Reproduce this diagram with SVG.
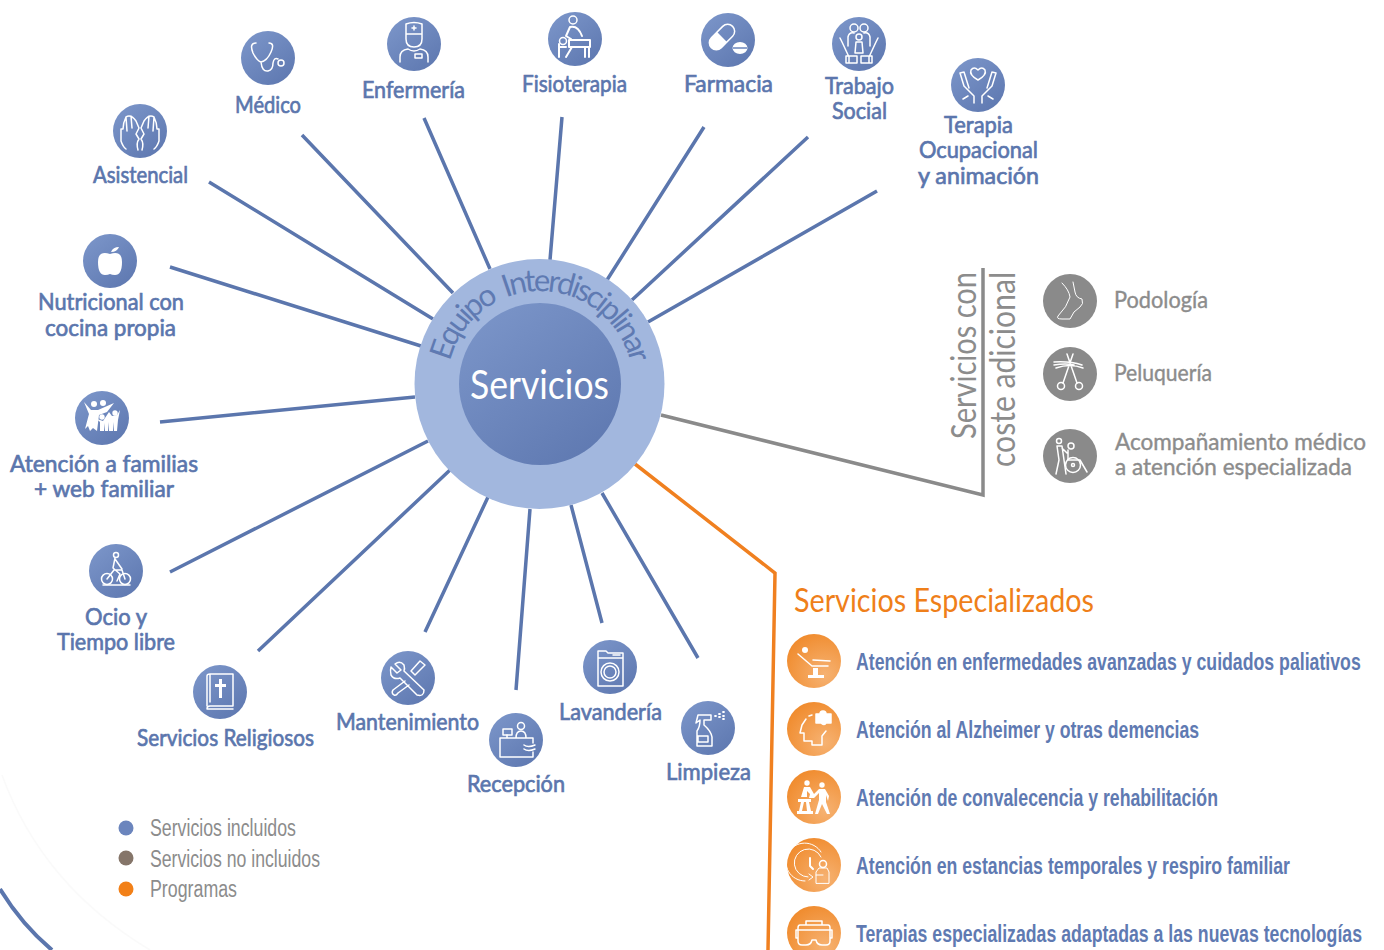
<svg xmlns="http://www.w3.org/2000/svg" xmlns:xlink="http://www.w3.org/1999/xlink" width="1384" height="950" viewBox="0 0 1384 950">
<style>
text{font-family:"Lato","Liberation Sans",sans-serif}
.l{font-size:24px;fill:#5b76ad;stroke:#5b76ad;stroke-width:.7}
.g{font-size:24px;fill:#8c8c8c;stroke:#8c8c8c;stroke-width:.4}
.v{font-size:34px;fill:#8c8c8c}
.o{font-family:"Liberation Sans",Arial,sans-serif;font-weight:700;font-size:23px;fill:#5f7ab2}
.k{font-family:"Liberation Sans",Arial,sans-serif;font-size:23px;fill:#8c8c8c}
.c{stroke:#5b76ad;stroke-width:3.5;fill:none}
.b{fill:url(#blue)}.y{fill:#8a8a8a}.r{fill:url(#org)}
.i{fill:none;stroke:#fff;stroke-width:1.5;stroke-linecap:round;stroke-linejoin:round}
.f{fill:#fff;stroke:none}
</style>
<defs>
<linearGradient id="blue" x1="0.15" y1="0.05" x2="0.85" y2="0.95"><stop offset="0" stop-color="#7a94c8"/><stop offset="1" stop-color="#5f79b1"/></linearGradient>
<radialGradient id="org" cx="0.7" cy="0.75" r="0.85"><stop offset="0" stop-color="#f6b272"/><stop offset="1" stop-color="#f08a2b"/></radialGradient>
<path id="arc" d="M449.800 361.500 A93 93 0 0 1 630.200 361.500"/>
<path id="hand" d="M-2 19Q-4 12-1 8L-4 3-1-3-4-10Q-9-17-14-14Q-17-8-17-2L-19-2V10Q-17 16-14 18M-14-14L-13 0M-9-15L-8-3"/>
</defs>
<rect width="1384" height="950" fill="#fff"/>
<g id="decor" fill="none">
<path d="M2 775Q42 885 150 950" stroke="#fafafa" stroke-width="1.500"/>
<path d="M0 889Q22 925 52 950" stroke="#5b76ad" stroke-width="4"/>
</g>
<g id="connectors">
<path class="c" d="M209 182L433 319M302 135L453 293M424 118L490 269M562 117L550 260M704 127L607 280M808 137L632 300M877 191L648 322M170 267L421 346M160 422L415 397M170 572L428 441M258 651L450 470M425 632L488 497M516 690L530 509M602 623L571 505M698 658L602 493"/>
<path d="M661 415L983 495V268" fill="none" stroke="#8a8a8a" stroke-width="3.500"/>
<path d="M635 464L775 573L768 950" fill="none" stroke="#f08020" stroke-width="3.500"/>
</g>
<g id="center">
<circle cx="539.500" cy="384" r="125" fill="#a2b7de"/>
<circle cx="540" cy="384" r="81" fill="url(#blue)"/>
<text font-size="31" fill="#5f7ab2" word-spacing="5"><textPath xlink:href="#arc" href="#arc" startOffset="0" textLength="248" lengthAdjust="spacing">Equipo Interdisciplinar</textPath></text>
<text x="470" y="399" font-size="40" fill="#fff" textLength="139" lengthAdjust="spacingAndGlyphs">Servicios</text>
</g>
<g id="asistencial"><circle class="b" cx="140" cy="131" r="27"/><g class="i" transform="translate(140 131)"><use href="#hand"/><use href="#hand" transform="scale(-1 1)"/></g><text class="l" x="93" y="183" textLength="95" lengthAdjust="spacingAndGlyphs">Asistencial</text></g>
<g id="medico"><circle class="b" cx="268" cy="58" r="27"/><g class="i" transform="translate(268 58)"><path d="M-12-15Q-19-15-15-5Q-11 3-7 4Q-1 3 3-6Q7-15 1-15M-7 4Q-6 14 0 13Q5 12 5 5Q6-1 10 1"/><circle cx="13" cy="5" r="3"/></g><text class="l" x="235" y="113" textLength="66" lengthAdjust="spacingAndGlyphs">Médico</text></g>
<g id="enfermeria"><circle class="b" cx="414" cy="44" r="27"/><g class="i" transform="translate(414 44)"><path d="M-8-20Q0-23 8-20V-10H-8ZM-8-10V-5Q-8 3 0 3Q8 3 8-5V-10M0-18V-14M-2-16H2M-14 18V13Q-14 6-6 5Q0 9 6 5Q14 6 14 13V18"/><rect x="1" y="10" width="7" height="4"/></g><text class="l" x="362" y="98" textLength="103" lengthAdjust="spacingAndGlyphs">Enfermería</text></g>
<g id="fisioterapia"><circle class="b" cx="575" cy="39" r="27"/><g class="i" stroke-width="2" transform="translate(575 39)"><circle cx="-2" cy="-19" r="4"/><circle cx="-12" cy="2" r="3.500"/><path d="M-5-12Q3-14 7-3M-5-12L-9-3L-4 0M-6 1H15V8H-6ZM-3 8L-9 18M10 8V18M14 8V18M-16 5V18M-9 8H-15" stroke-width="2"/></g><text class="l" x="522" y="92" textLength="105" lengthAdjust="spacingAndGlyphs">Fisioterapia</text></g>
<g id="farmacia"><circle class="b" cx="728" cy="40" r="27"/><g transform="translate(728 40)"><g transform="rotate(-45 -6 -3)"><rect class="i" x="-21" y="-10" width="30" height="14" rx="7"/><path class="f" d="M-14-10H-6V4H-14A7 7 0 0 1-14-10Z"/></g><ellipse class="f" cx="12" cy="8" rx="7.500" ry="6"/><path d="M5 8H19" stroke="#6a84bb" stroke-width="1.500"/></g><text class="l" x="684" y="92" textLength="89" lengthAdjust="spacingAndGlyphs">Farmacia</text></g>
<g id="trabajo"><circle class="b" cx="859" cy="44" r="27"/><g class="i" transform="translate(859 44)"><circle cx="-5" cy="-16" r="4"/><circle cx="5" cy="-16" r="4"/><circle cy="-7" r="3"/><path d="M-11 2V-7Q-10-12-5-11M11 2V-7Q10-12 5-11M-4 9L-3-2H3L4 9ZM-10 19V13L-17-2L-19-6M10 19V13L17-2L19-6M-13 12H-2V19H-13ZM2 12H13V19H2Z"/></g><text class="l" x="825" y="94" textLength="69" lengthAdjust="spacingAndGlyphs">Trabajo</text><text class="l" x="832" y="119" textLength="55" lengthAdjust="spacingAndGlyphs">Social</text></g>
<g id="terapia"><circle class="b" cx="978" cy="85" r="27"/><g class="i" transform="translate(978 85)"><path d="M0-5Q-9-10-7-15Q-4-19 0-15Q4-19 7-15Q9-10 0-5Z"/><path d="M-4 18V11L-14 1L-18-12L-14-13M-10 11L-15 14M4 18V11L14 1L18-12L14-13M10 11L15 14M-14-13L-9 3M14-13L9 3"/></g><text class="l" x="944" y="133" textLength="69" lengthAdjust="spacingAndGlyphs">Terapia</text><text class="l" x="919" y="158" textLength="119" lengthAdjust="spacingAndGlyphs">Ocupacional</text><text class="l" x="918" y="184" textLength="121" lengthAdjust="spacingAndGlyphs">y animación</text></g>
<g id="nutricional"><circle class="b" cx="110" cy="261" r="27"/><g transform="translate(110 261)"><path class="f" d="M0-7Q-12-11-12 1Q-12 14-5 14Q-2 14 0 13Q2 14 5 14Q12 14 12 1Q12-11 0-7Z"/><path class="f" d="M1-9Q3-14 9-14Q7-9 1-9Z"/></g><text class="l" x="38" y="310" textLength="146" lengthAdjust="spacingAndGlyphs">Nutricional con</text><text class="l" x="45" y="336" textLength="131" lengthAdjust="spacingAndGlyphs">cocina propia</text></g>
<g id="familias"><circle class="b" cx="102" cy="418" r="27"/><g transform="translate(102 418)"><circle class="f" cx="-8" cy="-14" r="3"/><circle class="f" cx="1" cy="-15" r="3"/><circle class="f" cx="13" cy="-5" r="2.700"/><circle class="f" cx="0" cy="-1" r="2.700"/><path class="f" d="M-18-16L-11-8H-4L12-15L5-6L-3-3L-5 13L-9 10L-12 13L-14 8L-17 11L-13-4ZM-2 13V4L-5 1L1 3L7-6L10-2L15-3L18-8L16 2L15 13H12V4L11 13H7V4L6 13H3V5L2 13Z"/></g><text class="l" x="10" y="472" textLength="188" lengthAdjust="spacingAndGlyphs">Atención a familias</text><text class="l" x="34" y="497" textLength="140" lengthAdjust="spacingAndGlyphs">+ web familiar</text></g>
<g id="ocio"><circle class="b" cx="116" cy="571" r="27"/><g class="i" transform="translate(116 571)"><circle cy="-16" r="2.500"/><circle cx="-9" cy="8" r="5.500"/><circle cx="9" cy="8" r="5.500"/><path d="M-1-13L-3-3L4 3L1 10M-1-12L6-2M-9 8L-2-1H6L9 8M-13 14H14"/></g><text class="l" x="85" y="625" textLength="62" lengthAdjust="spacingAndGlyphs">Ocio y</text><text class="l" x="57" y="650" textLength="118" lengthAdjust="spacingAndGlyphs">Tiempo libre</text></g>
<g id="religiosos"><circle class="b" cx="220" cy="692" r="27"/><g class="i" transform="translate(220 692)"><path d="M-13 14V-16Q-13-18-10-18H13V14H-10Q-13 14-13 17H13M-10-18V10"/><path class="f" d="M-1-13H2V-8H6V-5H2V6H-1V-5H-5V-8H-1Z"/></g><text class="l" x="137" y="746" textLength="177" lengthAdjust="spacingAndGlyphs">Servicios Religiosos</text></g>
<g id="mantenimiento"><circle class="b" cx="408" cy="678" r="27"/><g class="i" transform="translate(408 678)"><path d="M-17-11L-11-5L-7-8L-13-14Q-8-18-4-13Q-3-9-4-7L16 12Q16 19 9 17L-8 0Q-14 2-17-3Q-18-8-17-11ZM12 -17L17-13L7-3L3-7ZM-3 3L-15 12Q-17 15-14 17Q-12 18-10 15L1 7"/></g><text class="l" x="336" y="730" textLength="143" lengthAdjust="spacingAndGlyphs">Mantenimiento</text></g>
<g id="recepcion"><circle class="b" cx="516" cy="740" r="27"/><g class="i" transform="translate(516 740)"><circle cx="5" cy="-14" r="3.500"/><rect x="-13" y="-11" width="9" height="6"/><path d="M-9-5V-2M0-2Q0-9 5-9Q10-9 10-2M-16-2H17V3M-16-2V17H17V12M8 5Q12 8 19 5M8 9Q12 12 19 9"/></g><text class="l" x="467" y="792" textLength="98" lengthAdjust="spacingAndGlyphs">Recepción</text></g>
<g id="lavanderia"><circle class="b" cx="610" cy="667" r="27"/><g class="i" transform="translate(610 667)"><path d="M-12-16H-4L-2-14H13V19H-12ZM-12-9H13M3-12H10"/><circle cy="5" r="9"/><circle cy="5" r="6"/></g><text class="l" x="559" y="720" textLength="103" lengthAdjust="spacingAndGlyphs">Lavandería</text></g>
<g id="limpieza"><circle class="b" cx="708" cy="728" r="27"/><g class="i" transform="translate(708 728)"><path d="M-10-13H3V-8H-4V-3Q3 3 4 9V18H-11V3Q-8-1-8-8L-12-5ZM-10 8H0V14H-10Z"/><path d="M7-12H8M11-14H12M11-11H12M15-16H16M15-12H16M15-9H16" stroke-width="1.800"/></g><text class="l" x="666" y="780" textLength="85" lengthAdjust="spacingAndGlyphs">Limpieza</text></g>
<g id="coste"><text class="v" transform="translate(976 439) rotate(-90)" textLength="167" lengthAdjust="spacingAndGlyphs">Servicios con</text><text class="v" transform="translate(1015 467) rotate(-90)" textLength="195" lengthAdjust="spacingAndGlyphs">coste adicional</text></g>
<g id="podologia"><circle class="y" cx="1070" cy="301" r="27"/><g class="i" transform="translate(1070 301)"><path stroke-width="1" d="M-8-18Q-1-11 0-4Q-3 6-12 15Q-14 18-8 18H0Q3 10 10 6Q14 3 12-2Q6-3 5-9L3-19"/></g><text class="g" x="1114" y="308" textLength="94" lengthAdjust="spacingAndGlyphs">Podología</text></g>
<g id="peluqueria"><circle class="y" cx="1070" cy="374" r="27"/><g class="i" transform="translate(1070 374)"><circle cx="-9" cy="12" r="3.500"/><circle cx="9" cy="12" r="3.500"/><path d="M-7 9L3-20M7 9L-3-20M-16-12Q0-13 12-9M-14-6Q0-11 13-6M-16-9Q-4-11 4-9"/></g><text class="g" x="1114" y="381" textLength="98" lengthAdjust="spacingAndGlyphs">Peluquería</text></g>
<g id="acompanamiento"><circle class="y" cx="1070" cy="456" r="27"/><g class="i" transform="translate(1070 456)"><circle cx="-11" cy="-15" r="2.500"/><circle cx="1" cy="-10" r="3"/><circle cx="3" cy="9" r="7.500"/><circle cx="3" cy="9" r="1.500"/><path d="M-14 18L-11 4L-13-10H-8L-6 4L-4 18M-8-8L-3-3M-2-6V4H10L17 16"/></g><text class="g" x="1115" y="450" textLength="251" lengthAdjust="spacingAndGlyphs">Acompañamiento médico</text><text class="g" x="1115" y="475" textLength="237" lengthAdjust="spacingAndGlyphs">a atención especializada</text></g>
<g id="especializados"><text x="794" y="612" font-size="33" fill="#ef7f1a" textLength="300" lengthAdjust="spacingAndGlyphs">Servicios Especializados</text></g>
<g id="paliativos"><circle class="r" cx="814" cy="661" r="27"/><g transform="translate(814 661)"><circle class="f" cx="-9" cy="-11" r="3"/><path class="i" stroke-width="3" d="M-16-7L-2 5H14M-1-1L16 0"/><path class="f" d="M-1 7H4V14H10V17H-6V14H-1Z"/></g><text class="o" transform="translate(856 670) scale(.8 1)" textLength="631" lengthAdjust="spacingAndGlyphs">Atención en enfermedades avanzadas y cuidados paliativos</text></g>
<g id="alzheimer"><circle class="r" cx="814" cy="729" r="27"/><g class="i" transform="translate(814 729)"><path d="M-8-10L-12-4L-14 4H-10V12H-2V16H8V7L12 2M-5-13L-2-14"/><path d="M2-15H6Q6-18 9-18Q12-18 12-15H17V-6H12Q10-3 7-6H2Z" fill="#fff"/></g><text class="o" transform="translate(856 738) scale(.8 1)" textLength="429" lengthAdjust="spacingAndGlyphs">Atención al Alzheimer y otras demencias</text></g>
<g id="convalecencia"><circle class="r" cx="814" cy="797" r="27"/><g transform="translate(814 797)"><circle class="f" cx="-7" cy="-14" r="2.700"/><circle class="f" cx="8" cy="-12" r="2.700"/><path class="f" d="M-10-10H-4L0-3L5-8H11L15-1L14 4L12-2V5L16 17H13L8 7L4 17H1L5 3V-4L0 1H-5L-4-3L-7-6V0H-13ZM-16 2H-3V5H-5L-3 14H-1V17H-17V14H-15L-13 5H-16ZM-10 5L-12 14H-7L-8 5Z"/></g><text class="o" transform="translate(856 806) scale(.8 1)" textLength="452.500" lengthAdjust="spacingAndGlyphs">Atención de convalecencia y rehabilitación</text></g>
<g id="respiro"><circle class="r" cx="814" cy="865" r="27"/><g class="i" transform="translate(814 865)"><path stroke-width="1" d="M7-8A14 14 0 1 0-6 12M7-13A19 19 0 1 0-9 16M-5 15L-1 12L-5 9"/><path stroke-width="2" d="M-4-7V1L-1 4"/><circle cx="9" cy="-1" r="3.500"/><path stroke-width="1" d="M2 18V7L5 3H13L15 7V18ZM2 10H9"/></g><text class="o" transform="translate(856 874) scale(.8 1)" textLength="542.500" lengthAdjust="spacingAndGlyphs">Atención en estancias temporales y respiro familiar</text></g>
<g id="tecnologias"><circle class="r" cx="814" cy="933" r="27"/><g class="i" transform="translate(814 933)"><path d="M-8-12V-8M8-12V-8M-8-12H8M-14-8H14Q16-8 16-5V8Q16 12 12 12H8Q3 12 2 7H-2Q-3 12-8 12H-12Q-16 12-16 8V-5Q-16-8-14-8ZM-16-3H-18V5H-16M16-3H18V5H16M-15-3H15"/></g><text class="o" transform="translate(856 942) scale(.8 1)" textLength="632.500" lengthAdjust="spacingAndGlyphs">Terapias especializadas adaptadas a las nuevas tecnologías</text></g>
<g id="leyenda"><circle cx="126" cy="828" r="7.500" fill="#6b85bd"/><circle cx="126" cy="858" r="7.500" fill="#857569"/><circle cx="126" cy="889" r="7.500" fill="#f28018"/><text class="k" x="150" y="836" textLength="146" lengthAdjust="spacingAndGlyphs">Servicios incluidos</text><text class="k" x="150" y="867" textLength="170" lengthAdjust="spacingAndGlyphs">Servicios no incluidos</text><text class="k" x="150" y="897" textLength="87" lengthAdjust="spacingAndGlyphs">Programas</text></g>
</svg>
